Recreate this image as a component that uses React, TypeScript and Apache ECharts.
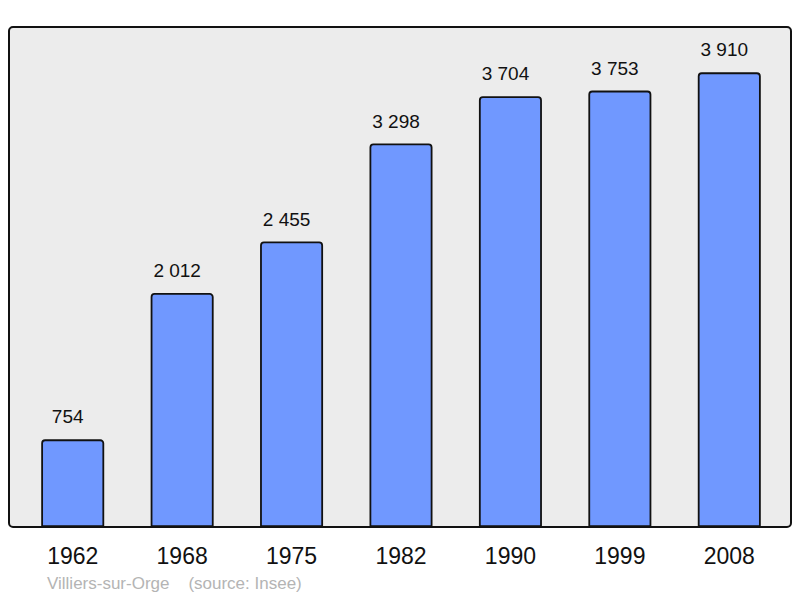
import React, { useEffect, useRef } from "react";
import * as echarts from "echarts";

const years = ["1962", "1968", "1975", "1982", "1990", "1999", "2008"];
const population = [754, 2012, 2455, 3298, 3704, 3753, 3910];
const footerText = "Villiers-sur-Orge    (source: Insee)";

const fmt = (v: number) => {
  const s = String(v);
  return s.length > 3 ? s.slice(0, s.length - 3) + " " + s.slice(-3) : s;
};

export default function App() {
  const ref = useRef<HTMLDivElement>(null);
  useEffect(() => {
    if (!ref.current) return;
    const chart = echarts.init(ref.current, undefined, { renderer: "svg" });
    chart.setOption({
      animation: false,
      textStyle: { fontFamily: "Liberation Sans, Arial, sans-serif" },
      grid: { left: 18, right: 16, top: 27, bottom: 71 },
      xAxis: {
        type: "category",
        data: years,
        axisLine: { show: false },
        axisTick: { show: false },
        axisLabel: { fontSize: 23, color: "#111", margin: 17 },
      },
      yAxis: {
        type: "value",
        min: 0,
        max: 4300,
        show: false,
        splitLine: { show: false },
      },
      graphic: [
        {
          type: "rect",
          z: -10,
          shape: { x: 9, y: 27, width: 782, height: 500, r: 4 },
          style: { fill: "#ececec", stroke: "none" },
        },
        {
          type: "rect",
          z: 100,
          shape: { x: 9, y: 27, width: 782, height: 500, r: 4 },
          style: { fill: "none", stroke: "#111", lineWidth: 2 },
        },
        {
          type: "text",
          left: 47,
          top: 575,
          style: {
            text: footerText,
            fontSize: 17,
            fill: "#b4b4b4",
            fontFamily: "Liberation Sans, Arial, sans-serif",
          },
        },
      ],
      series: [
        {
          type: "bar",
          data: population,
          barWidth: 63,
          itemStyle: {
            color: "#7098ff",
            borderColor: "#111",
            borderWidth: 1.8,
            borderRadius: [3, 3, 0, 0],
          },
          label: {
            show: true,
            position: "top",
            distance: 13,
            offset: [-5, 0],
            fontSize: 19,
            color: "#111",
            formatter: (p: any) => fmt(p.value),
          },
        },
      ],
    });
    return () => chart.dispose();
  }, []);
  return <div ref={ref} style={{ width: 800, height: 598, position: "absolute", left: 0, top: 0 }} />;
}
